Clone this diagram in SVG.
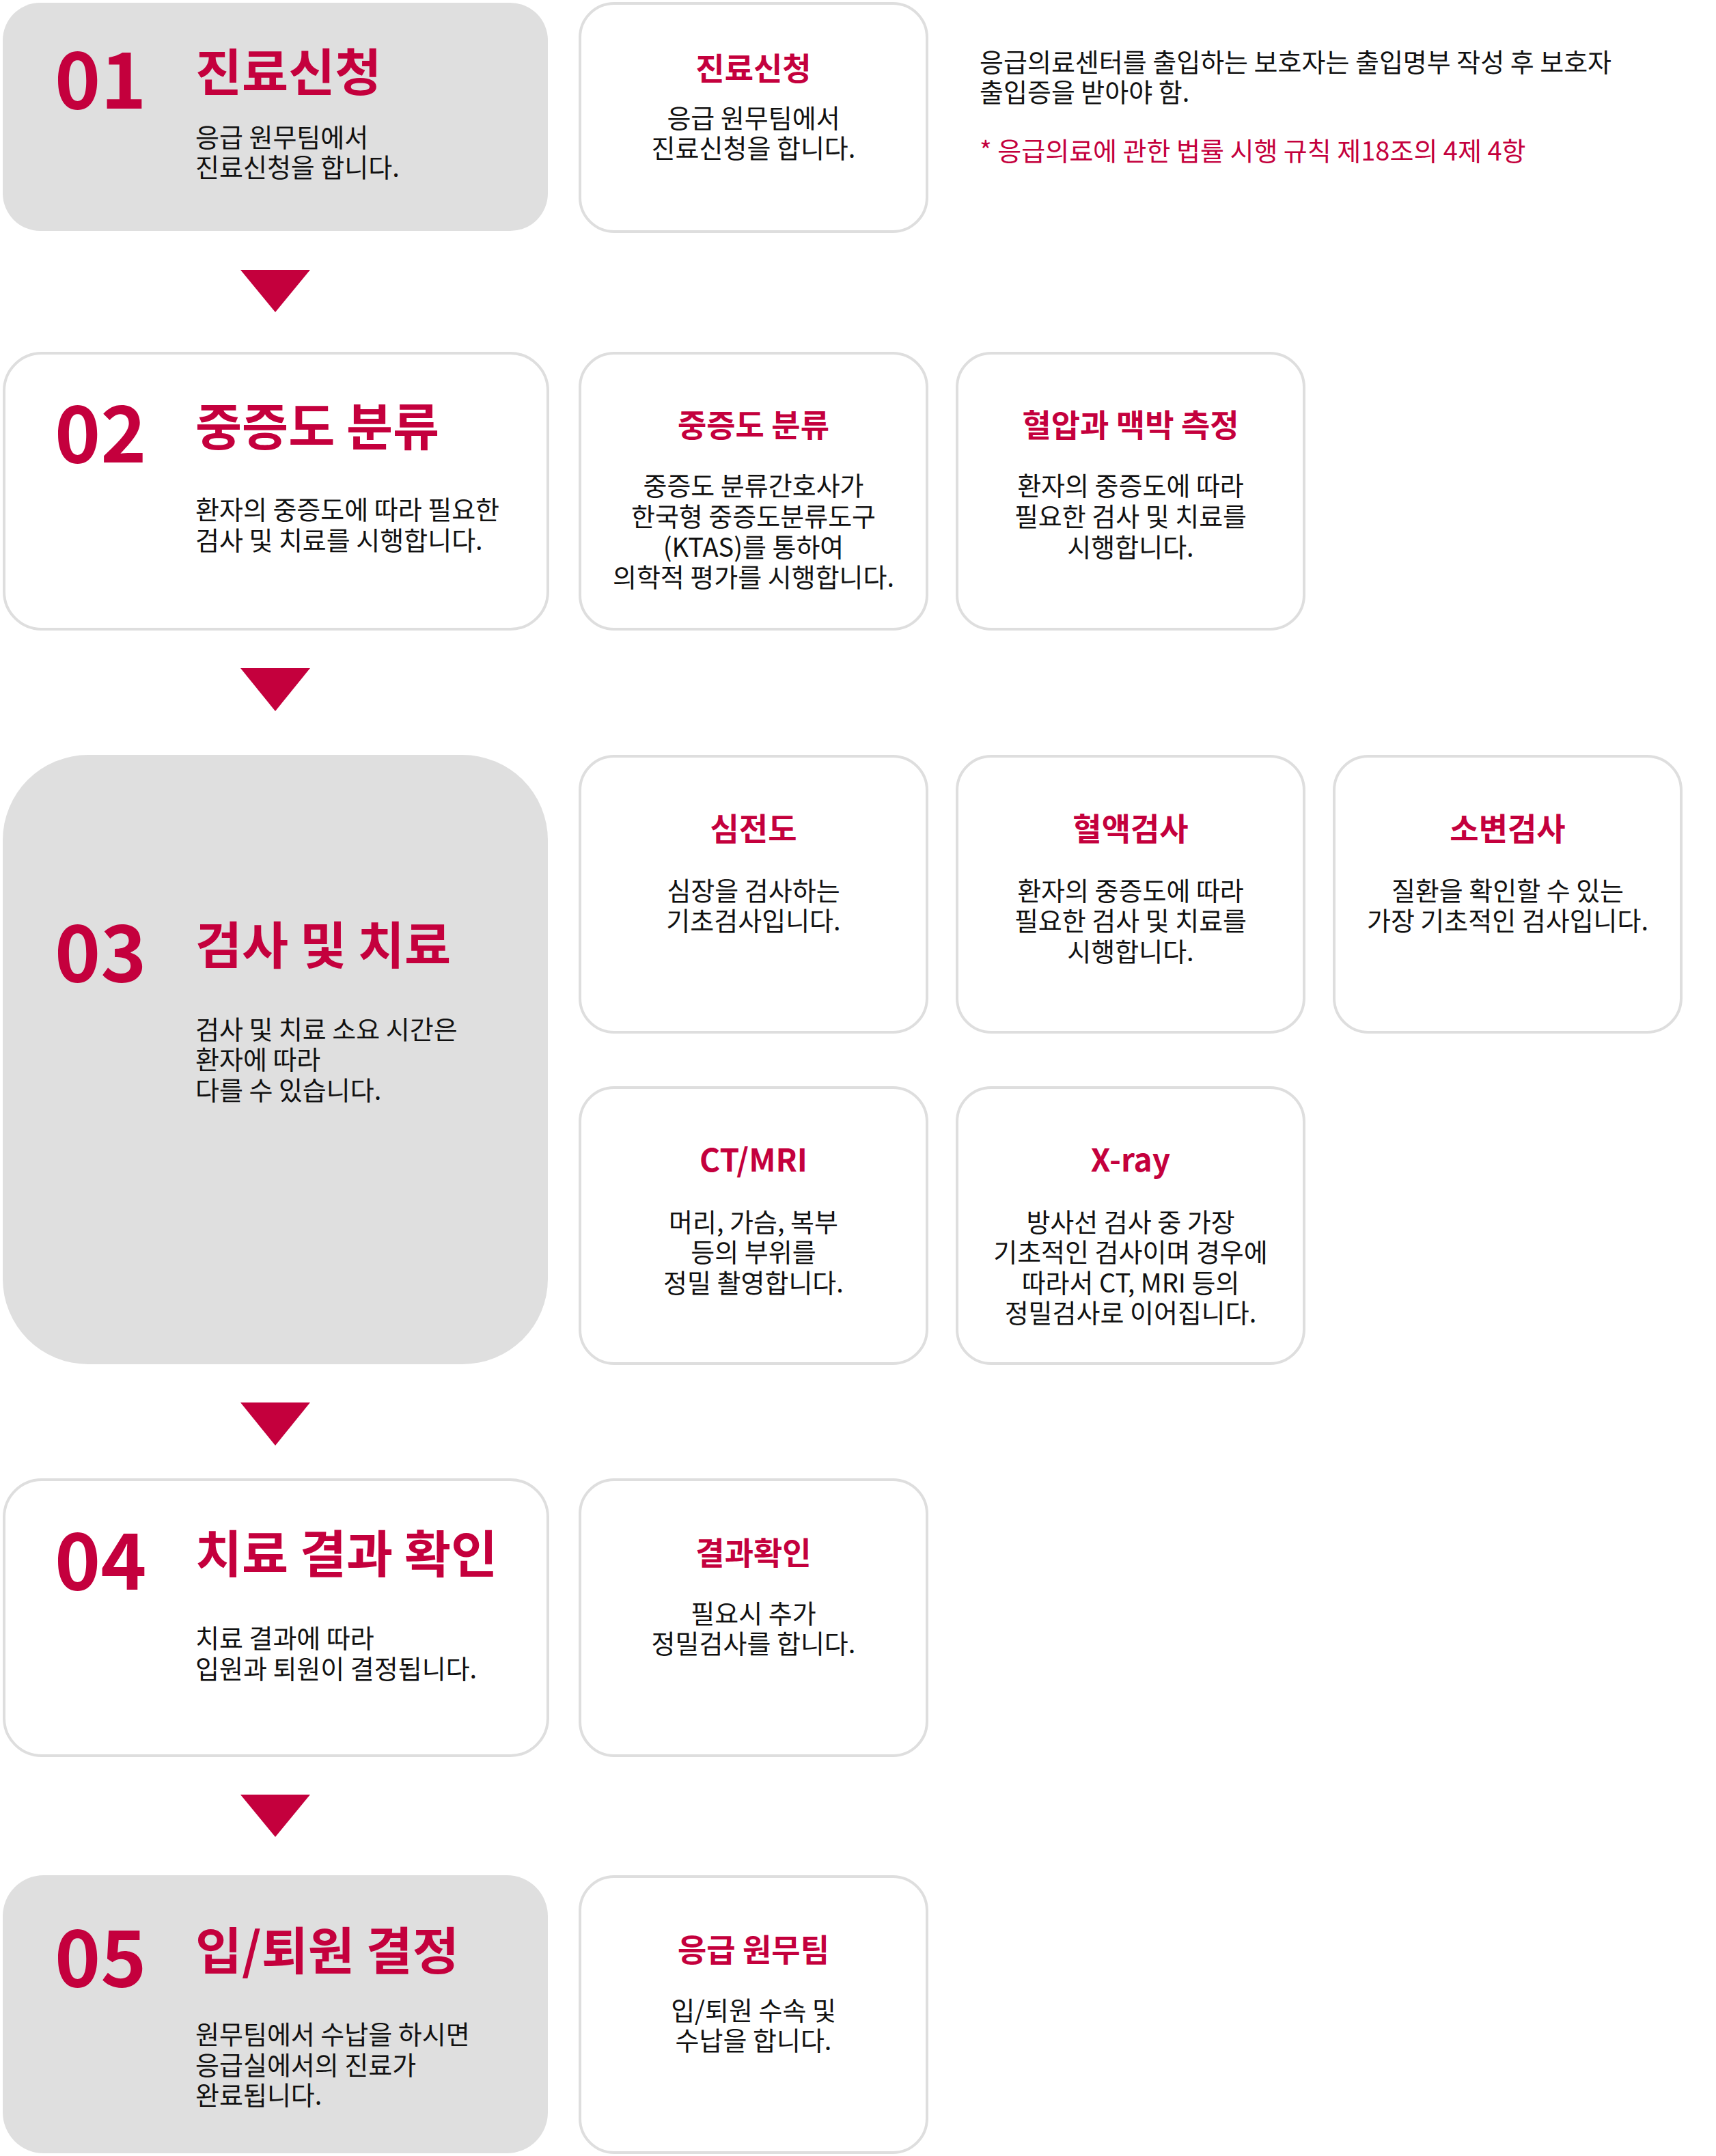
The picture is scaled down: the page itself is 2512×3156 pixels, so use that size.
<svg xmlns="http://www.w3.org/2000/svg" width="2512" height="3156" viewBox="0 0 2512 3156">
<style>
text { font-family: "Noto Sans CJK KR", "Noto Sans", sans-serif; }
.gray { fill: #dfdfdf; }
.box { fill: #ffffff; stroke: #dedede; stroke-width: 4; }
.num { font-size: 114px; font-weight: 700; fill: #c4003d; }
.title { font-size: 74px; font-weight: 700; fill: #c4003d; }
.desc { font-size: 38px; fill: #111111; }
.stitle { font-size: 46px; font-weight: 700; fill: #c4003d; text-anchor: middle; }
.sdesc { font-size: 38px; fill: #111111; text-anchor: middle; }
.note { font-size: 38px; fill: #111111; }
.red { fill: #c4003d; }
.arrow { fill: #c4003d; }
</style>
<rect width="2512" height="3156" fill="#ffffff"/>

<g id="step01">
  <rect class="gray" x="4" y="4" width="798" height="334" rx="55"/>
  <text class="num" x="80" y="159">01</text>
  <text class="title" x="286" y="133">진료신청</text>
  <text class="desc" x="286" y="215">응급 원무팀에서</text>
  <text class="desc" x="286" y="259">진료신청을 합니다.</text>
</g>
<g id="step01-a">
  <rect class="box" x="849" y="5" width="508" height="334" rx="50"/>
  <text class="stitle" x="1103" y="117">진료신청</text>
  <text class="sdesc" x="1103" y="187">응급 원무팀에서</text>
  <text class="sdesc" x="1103" y="231">진료신청을 합니다.</text>
</g>
<g id="note">
  <text class="note" x="1434" y="105">응급의료센터를 출입하는 보호자는 출입명부 작성 후 보호자</text>
  <text class="note" x="1434" y="149">출입증을 받아야 함.</text>
  <text class="note red" x="1434" y="235">* 응급의료에 관한 법률 시행 규칙 제18조의 4제 4항</text>
</g>

<g id="step02">
  <rect class="box" x="6" y="517" width="796" height="404" rx="55"/>
  <text class="num" x="80" y="677">02</text>
  <text class="title" x="286" y="652">중증도 분류</text>
  <text class="desc" x="286" y="760">환자의 중증도에 따라 필요한</text>
  <text class="desc" x="286" y="805">검사 및 치료를 시행합니다.</text>
</g>
<g id="step02-a">
  <rect class="box" x="849" y="517" width="508" height="404" rx="50"/>
  <text class="stitle" x="1103" y="639">중증도 분류</text>
  <text class="sdesc" x="1103" y="725">중증도 분류간호사가</text>
  <text class="sdesc" x="1103" y="770">한국형 중증도분류도구</text>
  <text class="sdesc" x="1103" y="815">(KTAS)를 통하여</text>
  <text class="sdesc" x="1103" y="859">의학적 평가를 시행합니다.</text>
</g>
<g id="step02-b">
  <rect class="box" x="1401" y="517" width="508" height="404" rx="50"/>
  <text class="stitle" x="1655" y="639">혈압과 맥박 측정</text>
  <text class="sdesc" x="1655" y="725">환자의 중증도에 따라</text>
  <text class="sdesc" x="1655" y="770">필요한 검사 및 치료를</text>
  <text class="sdesc" x="1655" y="815">시행합니다.</text>
</g>

<g id="step03">
  <rect class="gray" x="4" y="1105" width="798" height="892" rx="125"/>
  <text class="num" x="80" y="1437">03</text>
  <text class="title" x="286" y="1411">검사 및 치료</text>
  <text class="desc" x="286" y="1521">검사 및 치료 소요 시간은</text>
  <text class="desc" x="286" y="1565">환자에 따라</text>
  <text class="desc" x="286" y="1610">다를 수 있습니다.</text>
</g>
<g id="step03-a">
  <rect class="box" x="849" y="1107" width="508" height="404" rx="50"/>
  <text class="stitle" x="1103" y="1230">심전도</text>
  <text class="sdesc" x="1103" y="1318">심장을 검사하는</text>
  <text class="sdesc" x="1103" y="1362">기초검사입니다.</text>
</g>
<g id="step03-b">
  <rect class="box" x="1401" y="1107" width="508" height="404" rx="50"/>
  <text class="stitle" x="1655" y="1230">혈액검사</text>
  <text class="sdesc" x="1655" y="1318">환자의 중증도에 따라</text>
  <text class="sdesc" x="1655" y="1362">필요한 검사 및 치료를</text>
  <text class="sdesc" x="1655" y="1407">시행합니다.</text>
</g>
<g id="step03-c">
  <rect class="box" x="1953" y="1107" width="508" height="404" rx="50"/>
  <text class="stitle" x="2207" y="1230">소변검사</text>
  <text class="sdesc" x="2207" y="1318">질환을 확인할 수 있는</text>
  <text class="sdesc" x="2207" y="1362">가장 기초적인 검사입니다.</text>
</g>
<g id="step03-d">
  <rect class="box" x="849" y="1592" width="508" height="404" rx="50"/>
  <text class="stitle" x="1103" y="1715">CT/MRI</text>
  <text class="sdesc" x="1103" y="1803">머리, 가슴, 복부</text>
  <text class="sdesc" x="1103" y="1847">등의 부위를</text>
  <text class="sdesc" x="1103" y="1892">정밀 촬영합니다.</text>
</g>
<g id="step03-e">
  <rect class="box" x="1401" y="1592" width="508" height="404" rx="50"/>
  <text class="stitle" x="1655" y="1715">X-ray</text>
  <text class="sdesc" x="1655" y="1803">방사선 검사 중 가장</text>
  <text class="sdesc" x="1655" y="1847">기초적인 검사이며 경우에</text>
  <text class="sdesc" x="1655" y="1892">따라서 CT, MRI 등의</text>
  <text class="sdesc" x="1655" y="1936">정밀검사로 이어집니다.</text>
</g>

<g id="step04">
  <rect class="box" x="6" y="2166" width="796" height="404" rx="55"/>
  <text class="num" x="80" y="2327">04</text>
  <text class="title" x="286" y="2302">치료 결과 확인</text>
  <text class="desc" x="286" y="2412">치료 결과에 따라</text>
  <text class="desc" x="286" y="2457">입원과 퇴원이 결정됩니다.</text>
</g>
<g id="step04-a">
  <rect class="box" x="849" y="2166" width="508" height="404" rx="50"/>
  <text class="stitle" x="1103" y="2290">결과확인</text>
  <text class="sdesc" x="1103" y="2376">필요시 추가</text>
  <text class="sdesc" x="1103" y="2420">정밀검사를 합니다.</text>
</g>

<g id="step05">
  <rect class="gray" x="4" y="2745" width="798" height="407" rx="60"/>
  <text class="num" x="80" y="2908">05</text>
  <text class="title" x="286" y="2883">입/퇴원 결정</text>
  <text class="desc" x="286" y="2992">원무팀에서 수납을 하시면</text>
  <text class="desc" x="286" y="3037">응급실에서의 진료가</text>
  <text class="desc" x="286" y="3081">완료됩니다.</text>
</g>
<g id="step05-a">
  <rect class="box" x="849" y="2747" width="508" height="404" rx="50"/>
  <text class="stitle" x="1103" y="2871">응급 원무팀</text>
  <text class="sdesc" x="1103" y="2957">입/퇴원 수속 및</text>
  <text class="sdesc" x="1103" y="3001">수납을 합니다.</text>
</g>

<g id="connectors">
  <polygon class="arrow" points="352,395 454,395 403,457"/>
  <polygon class="arrow" points="352,978 454,978 403,1041"/>
  <polygon class="arrow" points="352,2053 454,2053 403,2116"/>
  <polygon class="arrow" points="352,2627 454,2627 403,2689"/>
</g>
</svg>
